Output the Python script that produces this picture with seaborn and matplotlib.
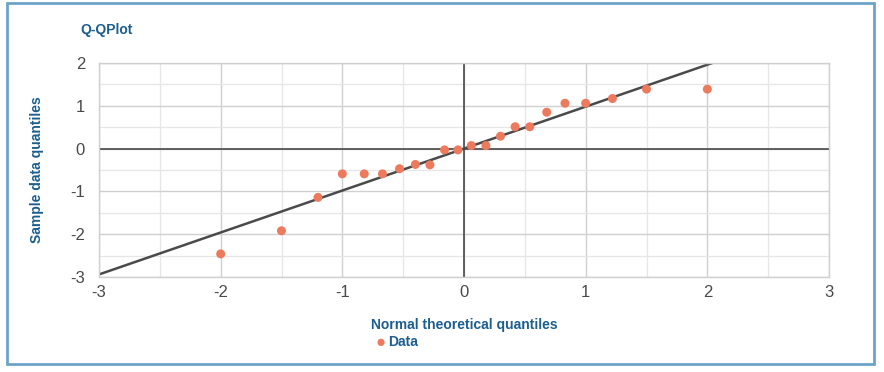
import matplotlib
matplotlib.use("Agg")
import matplotlib.pyplot as plt
import seaborn as sns
import pandas as pd
from matplotlib.patches import Rectangle
from matplotlib.ticker import MultipleLocator

# theoretical normal quantiles and sample quantiles
theoretical = [-2.0, -1.5, -1.2, -1.0, -0.82, -0.67, -0.53, -0.40, -0.28, -0.16, -0.05,
               0.06, 0.18, 0.30, 0.42, 0.54, 0.68, 0.83, 1.0, 1.22, 1.5, 2.0]
sample = [-2.46, -1.92, -1.14, -0.59, -0.59, -0.59, -0.47, -0.37, -0.38, -0.03, -0.03,
          0.07, 0.07, 0.29, 0.51, 0.51, 0.85, 1.06, 1.06, 1.17, 1.39, 1.39]
fit_slope = 0.98
fit_intercept = 0.0

x_ticks = [-3, -2, -1, 0, 1, 2, 3]
y_ticks = [-3, -2, -1, 0, 1, 2]

df = pd.DataFrame({"theoretical": theoretical, "sample": sample, "series": "Data"})

sns.set_theme(style="white")
plt.rcParams['font.family'] = ['Liberation Sans', 'DejaVu Sans']
plt.rcParams['axes.unicode_minus'] = False

blue = "#1b5e8f"
label_size = 10
fig = plt.figure(figsize=(8.84, 3.72), dpi=100)
ax = fig.add_axes([99 / 884, 1 - 277 / 372, 730 / 884, 214 / 372])

ax.set_xlim(-3, 3)
ax.set_ylim(-3, 2)
ax.xaxis.set_major_locator(MultipleLocator(1))
ax.yaxis.set_major_locator(MultipleLocator(1))
ax.xaxis.set_minor_locator(MultipleLocator(0.5))
ax.yaxis.set_minor_locator(MultipleLocator(0.5))
ax.grid(True, which="major", color="#d0d0d0", linewidth=1.0)
ax.grid(True, which="minor", color="#e6e6e6", linewidth=0.9)
ax.set_axisbelow(True)
for s in ax.spines.values():
    s.set_color("#d0d0d0")
    s.set_linewidth(1.0)
ax.axhline(0, color="#555555", linewidth=1.3, zorder=1)
ax.axvline(0, color="#555555", linewidth=1.3, zorder=1)

ax.axline((0, fit_intercept), slope=fit_slope, color="#4a4a4a", linewidth=1.8, zorder=2)

sns.scatterplot(data=df, x="theoretical", y="sample", hue="series",
                palette=["#ee7a5e"], s=42, edgecolor="none", zorder=3, ax=ax,
                legend=False)

ax.set_xticks(x_ticks)
ax.set_yticks(y_ticks)
ax.tick_params(axis="both", which="both", length=0, labelsize=12, labelcolor="#4a4a4a")
ax.tick_params(axis="x", pad=6)
ax.tick_params(axis="y", pad=10)

ax.set_xlabel("Normal theoretical quantiles", fontsize=label_size, fontweight="bold",
              color=blue)
ax.xaxis.set_label_coords(0.5, -0.19)
ax.set_ylabel("Sample data quantiles", fontsize=label_size, fontweight="bold",
              color=blue)
ax.yaxis.set_label_coords(-0.075, 0.5)

fig.text(80 / 884, 1 - 30 / 372, "Q-QPlot", fontsize=label_size, fontweight="bold",
         color=blue, va="center", ha="left")

# legend
fig.text(381 / 884, 1 - 342 / 372, "\u25CF", fontsize=12, color="#ee7a5e",
         va="center", ha="center")
fig.text(388 / 884, 1 - 342 / 372, "Data", fontsize=label_size, fontweight="bold",
         color=blue, va="center", ha="left")

# outer border
fig.patches.append(Rectangle((7 / 884, 1 - 364 / 372), 867 / 884, 361 / 372,
                             transform=fig.transFigure, fill=False,
                             edgecolor="#6ea3c9", linewidth=2.0))

fig.savefig("out.png", dpi=100)
plt.close(fig)
